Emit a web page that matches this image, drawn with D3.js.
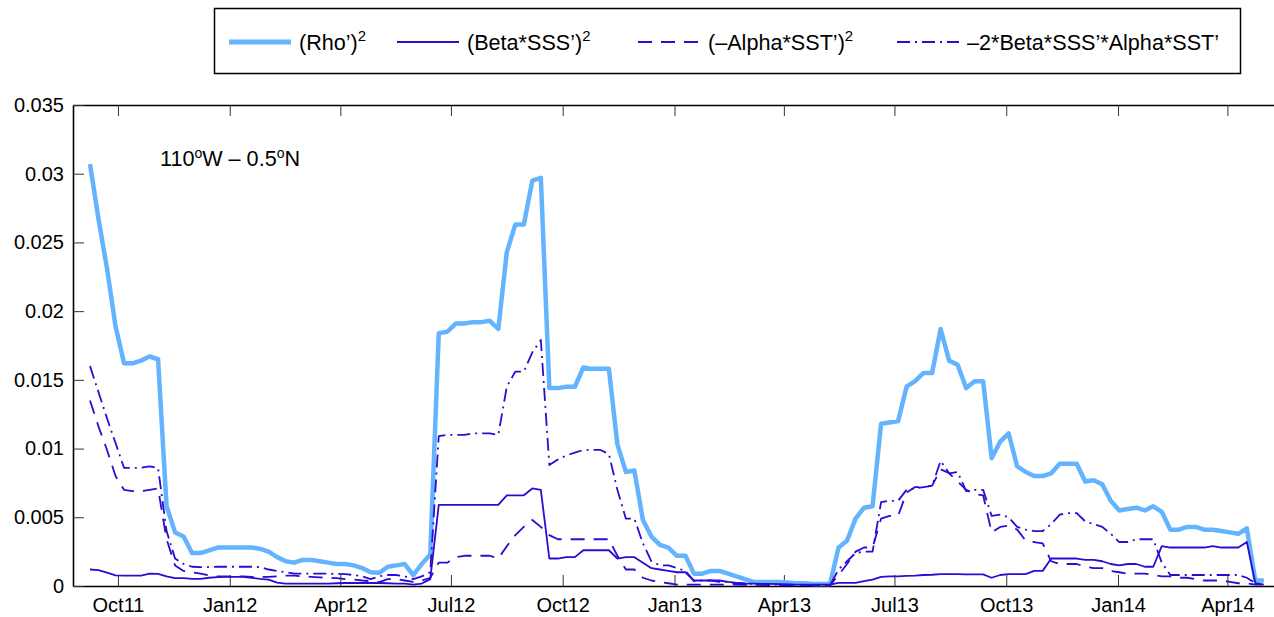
<!DOCTYPE html>
<html>
<head>
<meta charset="utf-8">
<script src="https://cdn.jsdelivr.net/npm/d3@7"></script>
<style>
  body { margin: 0; background: #fff; }
  svg text { font-family: "Liberation Sans", Arial, Helvetica, sans-serif; fill: #000; }
</style>
</head>
<body>
<svg id="chart" width="1274" height="617"></svg>
<script>
// Weekly density variance terms at 110°W, 0.5°N
const startDate = new Date(2011, 8, 8);   // first weekly sample
const stepDays = 7;

// (Rho')^2
const rho = [
  0.0307, 0.0267, 0.0231, 0.0189, 0.0162, 0.0162, 0.0164, 0.0167, 0.0165, 0.0058,
  0.0039, 0.0036, 0.0024, 0.0024, 0.0026, 0.0028, 0.0028, 0.0028, 0.0028, 0.0028,
  0.0027, 0.0025, 0.0021, 0.0018, 0.0017, 0.0019, 0.0019, 0.0018, 0.0017, 0.0016,
  0.0016, 0.0015, 0.0013, 0.0010, 0.00096, 0.0014, 0.0015, 0.0016, 0.0008, 0.0016,
  0.0023, 0.0184, 0.0185, 0.0191, 0.0191, 0.0192, 0.0192, 0.0193, 0.0187, 0.0243,
  0.0263, 0.0263, 0.0295, 0.0297, 0.0144, 0.0144, 0.0145, 0.0145, 0.0159, 0.0158,
  0.0158, 0.0158, 0.0103, 0.0083, 0.0084, 0.0048, 0.0036, 0.0030, 0.0028, 0.0022,
  0.0022, 0.0009, 0.0009, 0.0011, 0.0011, 0.0009, 0.0007, 0.0005, 0.0003, 0.0003,
  0.0003, 0.0003, 0.00025, 0.0002, 0.0002, 0.00015, 0.00015, 0.00015, 0.0028, 0.0033,
  0.0049, 0.0057, 0.0058, 0.0118, 0.0119, 0.0120, 0.0145, 0.0149, 0.0155, 0.0155,
  0.0187, 0.0164, 0.0161, 0.0144, 0.0149, 0.0149, 0.0093, 0.0105, 0.0111, 0.0087,
  0.0083, 0.0080, 0.0080, 0.0082, 0.0089, 0.0089, 0.0089, 0.0076, 0.0077, 0.0074,
  0.0062, 0.0055, 0.0056, 0.0057, 0.0055, 0.0058, 0.0054, 0.0041, 0.0041, 0.0043,
  0.0043, 0.0041, 0.0041, 0.0040, 0.0039, 0.0038, 0.0042, 0.0004, 0.0004
];

// (Beta*SSS')^2
const betaSSS = [
  0.0012, 0.00115, 0.00098, 0.00078, 0.00076, 0.00076, 0.00076, 0.0009, 0.00088, 0.0007,
  0.00057, 0.00057, 0.00052, 0.00052, 0.0006, 0.00064, 0.00067, 0.00067, 0.00067, 0.0006,
  0.00052, 0.00047, 0.00024, 0.00018, 0.00018, 0.00018, 0.00018, 0.00018, 0.00018, 0.0002,
  0.00022, 0.00022, 0.00022, 0.00022, 0.00022, 0.0002, 0.00018, 0.00018, 0.0001, 0.00018,
  0.0005, 0.0059, 0.0059, 0.0059, 0.0059, 0.0059, 0.0059, 0.0059, 0.0059, 0.0066,
  0.0066, 0.0066, 0.0071, 0.0070, 0.0020, 0.0020, 0.0021, 0.0021, 0.0026, 0.0026,
  0.0026, 0.0026, 0.0020, 0.0021, 0.0021, 0.0017, 0.0013, 0.0012, 0.0011, 0.0010,
  0.0010, 0.0004, 0.0004, 0.0004, 0.0004, 0.0003, 0.00023, 0.00018, 0.00018, 0.00016,
  0.00015, 0.00014, 0.00012, 0.0001, 0.0001, 0.0001, 0.0001, 0.0001, 0.00023, 0.00023,
  0.00023, 0.00035, 0.00047, 0.00067, 0.0007, 0.0007, 0.00074, 0.00076, 0.0008, 0.00082,
  0.00086, 0.00086, 0.00086, 0.00085, 0.00085, 0.00085, 0.0006, 0.0008, 0.00086, 0.00086,
  0.00086, 0.0011, 0.0011, 0.0020, 0.0020, 0.0020, 0.0020, 0.0019, 0.0019, 0.0018,
  0.0016, 0.0015, 0.0016, 0.0016, 0.0014, 0.0014, 0.0029, 0.0028, 0.0028, 0.0028,
  0.0028, 0.0028, 0.0029, 0.0028, 0.0028, 0.0028, 0.0032, 0.0002, 0.0001
];

// (-Alpha*SST')^2
const alphaSST = [
  0.0135, 0.0116, 0.0099, 0.0080, 0.0070, 0.0069, 0.0069, 0.0070, 0.0071, 0.0034,
  0.0015, 0.0011, 0.0010, 0.0009, 0.00076, 0.0007, 0.0007, 0.0007, 0.0007, 0.00067,
  0.00067, 0.00067, 0.0007, 0.00076, 0.00076, 0.0007, 0.00067, 0.00063, 0.0006, 0.00057,
  0.0005, 0.00047, 0.0004, 0.00035, 0.00028, 0.0005, 0.0005, 0.0004, 0.0003, 0.0004,
  0.0006, 0.0017, 0.0017, 0.0021, 0.0022, 0.0022, 0.0022, 0.0022, 0.0020, 0.0029,
  0.0037, 0.0043, 0.0048, 0.0043, 0.0037, 0.0034, 0.0034, 0.0034, 0.0034, 0.0034,
  0.0034, 0.0034, 0.0022, 0.0012, 0.0012, 0.0006, 0.0004, 0.0003, 0.0002, 0.0001,
  0.0001, 0.0001, 0.0001, 0.0001, 0.0001, 0.0001, 0.0001, 0.00008, 0.00008, 0.00008,
  0.00006, 0.00006, 0.00005, 0.00005, 0.00005, 0.00005, 0.00005, 0.00005, 0.0008, 0.0016,
  0.0025, 0.0028, 0.0028, 0.0049, 0.0051, 0.0051, 0.0068, 0.0072, 0.0072, 0.0073,
  0.0085, 0.0082, 0.0076, 0.0070, 0.0067, 0.0066, 0.0039, 0.0043, 0.0044, 0.0041,
  0.0033, 0.0032, 0.0031, 0.0018, 0.0016, 0.0016, 0.0016, 0.0014, 0.0013, 0.0013,
  0.0011, 0.0010, 0.0009, 0.0009, 0.0009, 0.0008, 0.0007, 0.0007, 0.0006, 0.0006,
  0.0005, 0.0004, 0.0004, 0.0004, 0.0003, 0.0002, 0.0002, 0.0001, 0.0001
];

// -2*Beta*SSS'*Alpha*SST'
const crossTerm = [
  0.0160, 0.0141, 0.0122, 0.0104, 0.0086, 0.0086, 0.0086, 0.0087, 0.0086, 0.0040,
  0.0020, 0.0016, 0.0014, 0.00137, 0.00137, 0.0014, 0.0014, 0.0014, 0.0014, 0.0014,
  0.00137, 0.0012, 0.0011, 0.0010, 0.0009, 0.0009, 0.0009, 0.0009, 0.0009, 0.00088,
  0.00086, 0.0008, 0.0007, 0.0005, 0.0007, 0.0008, 0.0008, 0.0007, 0.0005, 0.0007,
  0.0010, 0.0109, 0.0110, 0.0110, 0.0110, 0.0111, 0.0111, 0.0111, 0.0110, 0.0145,
  0.0156, 0.0156, 0.0170, 0.0179, 0.0088, 0.0092, 0.0095, 0.0097, 0.0099, 0.0099,
  0.0099, 0.0096, 0.0070, 0.0049, 0.0049, 0.0031, 0.0018, 0.0015, 0.0015, 0.0013,
  0.0011, 0.00035, 0.0004, 0.0004, 0.0003, 0.0003, 0.0002, 0.0002, 0.00015, 0.0001,
  0.0001, 0.0001, 0.0001, 0.00008, 0.00008, 0.00005, 0.00005, 0.00005, 0.0012, 0.0018,
  0.0024, 0.0025, 0.0025, 0.0061, 0.0062, 0.0062, 0.0070, 0.0071, 0.0072, 0.0073,
  0.0091, 0.0082, 0.0083, 0.0069, 0.0070, 0.0070, 0.0051, 0.0052, 0.0050, 0.0043,
  0.0041, 0.0040, 0.0040, 0.0045, 0.0052, 0.0053, 0.0053, 0.0047, 0.0045, 0.0043,
  0.0038, 0.0032, 0.0032, 0.0034, 0.0034, 0.0034, 0.0017, 0.0008, 0.0008, 0.0008,
  0.0008, 0.0008, 0.0008, 0.0008, 0.0008, 0.0008, 0.0006, 0.0002, 0.0001
];

const yTickValues = [0, 0.005, 0.01, 0.015, 0.02, 0.025, 0.03, 0.035];
const yTickLabels = ["0", "0.005", "0.01", "0.015", "0.02", "0.025", "0.03", "0.035"];
const xTickDates = ["2011-10-01", "2012-01-01", "2012-04-01", "2012-07-01", "2012-10-01",
                    "2013-01-01", "2013-04-01", "2013-07-01", "2013-10-01", "2014-01-01", "2014-04-01"];
const xTickLabels = ["Oct11", "Jan12", "Apr12", "Jul12", "Oct12",
                     "Jan13", "Apr13", "Jul13", "Oct13", "Jan14", "Apr14"];
const legendLabels = [
  { base: "(Rho\u2019)", sup: "2" },
  { base: "(Beta*SSS\u2019)", sup: "2" },
  { base: "(\u2013Alpha*SST\u2019)", sup: "2" },
  { base: "\u20132*Beta*SSS\u2019*Alpha*SST\u2019", sup: "" }
];

// ---- layout ----
const svg = d3.select("#chart");
const plotLeft = 73, plotRight = 1276, plotTop = 105, plotBottom = 586;
const darkBlue = "#2a0cd2";
const styles = [
  { color: "#64b3ff", width: 4.5, dash: null },
  { color: darkBlue, width: 1.8, dash: null },
  { color: darkBlue, width: 1.8, dash: "14,9" },
  { color: darkBlue, width: 1.8, dash: "13,5,2,5" }
];

const parse = d3.timeParse("%Y-%m-%d");
const dates = rho.map((_, i) => d3.timeDay.offset(startDate, i * stepDays));

const x = d3.scaleTime()
  .domain([new Date(2011, 7, 25), new Date(2014, 4, 11)])
  .range([plotLeft, plotRight]);
const y = d3.scaleLinear().domain([0, 0.035]).range([plotBottom, plotTop]);

// frame lines and inward ticks
const tickDates = xTickDates.map(parse);
const fontSize = 20;
const labelSize = 21.6;

const gx = svg.append("g").attr("transform", `translate(0,${plotBottom})`)
  .call(d3.axisBottom(x).tickValues(tickDates).tickSize(-11).tickSizeOuter(0).tickPadding(12)
    .tickFormat((d, i) => xTickLabels[i]));
const gTop = svg.append("g").attr("transform", `translate(0,${plotTop})`)
  .call(d3.axisTop(x).tickValues(tickDates).tickSize(-11).tickSizeOuter(0).tickFormat(""));
const gy = svg.append("g").attr("transform", `translate(${plotLeft},0)`)
  .call(d3.axisLeft(y).tickValues(yTickValues).tickSize(-11).tickSizeOuter(0).tickPadding(9)
    .tickFormat((d, i) => yTickLabels[i]));

[gx, gTop, gy].forEach(g => {
  g.select(".domain").attr("stroke", "#000").attr("stroke-width", 1.6);
  g.selectAll(".tick line").attr("stroke", "#333").attr("stroke-width", 1);
  g.selectAll(".tick text").attr("font-size", fontSize).attr("fill", "#000")
    .style("font-family", '"Liberation Sans", Arial, sans-serif');
});

// series lines
const seriesData = [rho, betaSSS, alphaSST, crossTerm];
const line = d3.line().x((d, i) => x(dates[i])).y(d => y(d));
const plot = svg.append("g");
seriesData.forEach((vals, k) => {
  plot.append("path")
    .datum(vals)
    .attr("fill", "none")
    .attr("stroke", styles[k].color)
    .attr("stroke-width", styles[k].width)
    .attr("stroke-linejoin", "round")
    .attr("stroke-dasharray", styles[k].dash)
    .attr("d", line);
});

// location annotation
const note = svg.append("text").attr("x", 160).attr("y", 166).attr("font-size", labelSize);
note.append("tspan").text("110");
note.append("tspan").attr("font-size", 14).attr("dy", -8).text("o");
note.append("tspan").attr("dy", 8).text("W \u2013 0.5");
note.append("tspan").attr("font-size", 14).attr("dy", -8).text("o");
note.append("tspan").attr("dy", 8).text("N");

// legend
const legend = svg.append("g");
legend.append("rect")
  .attr("x", 214.5).attr("y", 8.5).attr("width", 1026).attr("height", 65)
  .attr("fill", "#fff").attr("stroke", "#000").attr("stroke-width", 1.5);
const legendX = [229, 397, 638, 897];
const sampleLen = 62, legendY = 42;
legendLabels.forEach((lab, k) => {
  const x0 = legendX[k];
  legend.append("line")
    .attr("x1", x0).attr("x2", x0 + sampleLen)
    .attr("y1", legendY).attr("y2", legendY)
    .attr("stroke", styles[k].color)
    .attr("stroke-width", k === 0 ? 5 : styles[k].width)
    .attr("stroke-dasharray", styles[k].dash);
  const t = legend.append("text")
    .attr("x", x0 + sampleLen + 8).attr("y", legendY + 8)
    .attr("font-size", labelSize);
  t.append("tspan").text(lab.base);
  if (lab.sup) t.append("tspan").attr("font-size", 15).attr("dy", -9).text(lab.sup);
});
</script>
</body>
</html>
